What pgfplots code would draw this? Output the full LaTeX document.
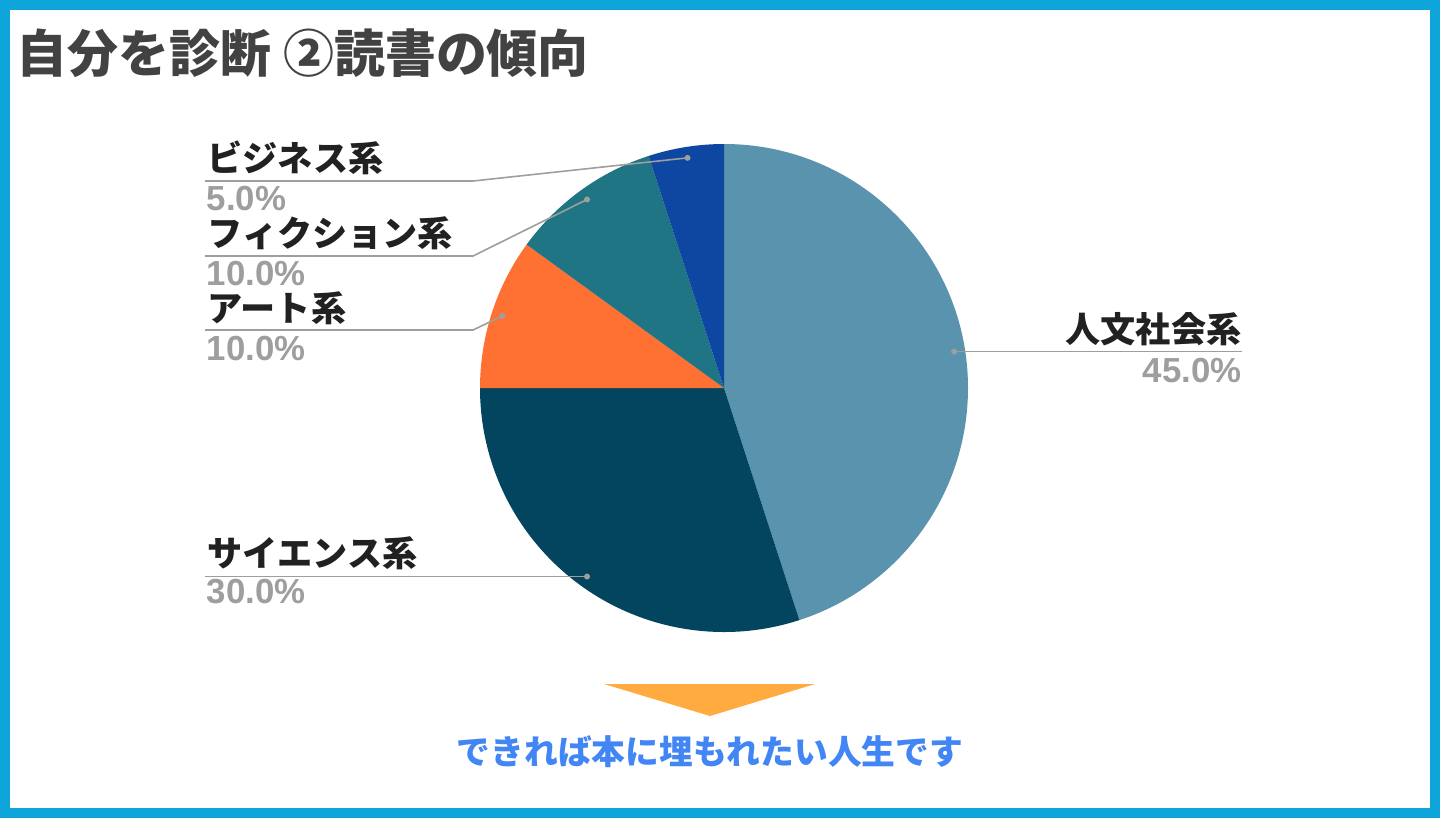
\documentclass[border=0pt]{standalone}
\usepackage{pgfplots}
\pgfplotsset{compat=1.18}
\usepackage{pgfplotstable}
\usepackage{fontspec}
\setmainfont{Noto Sans CJK JP}
\newfontfamily\numfont{Liberation Sans}
\definecolor{frameblue}{RGB}{14,165,218}
\definecolor{titlegray}{RGB}{66,66,66}
\definecolor{labblack}{RGB}{33,33,33}
\definecolor{pctgray}{RGB}{158,158,158}
\definecolor{cA}{RGB}{90,147,173}
\definecolor{cB}{RGB}{3,69,94}
\definecolor{cC}{RGB}{255,112,51}
\definecolor{cD}{RGB}{31,117,132}
\definecolor{cE}{RGB}{13,71,161}
\definecolor{arrowor}{RGB}{255,171,64}
\definecolor{msgblue}{RGB}{66,133,244}
\pgfplotstableread{
pct
45
30
10
10
5
}\piedata
\begin{document}
\begin{tikzpicture}[x=0.1mm,y=0.1mm]
% slice angles from the table
\pgfplotstablegetelem{0}{pct}\of\piedata \let\pA\pgfplotsretval
\pgfplotstablegetelem{1}{pct}\of\piedata \let\pB\pgfplotsretval
\pgfplotstablegetelem{2}{pct}\of\piedata \let\pC\pgfplotsretval
\pgfplotstablegetelem{3}{pct}\of\piedata \let\pD\pgfplotsretval
\pgfplotstablegetelem{4}{pct}\of\piedata \let\pE\pgfplotsretval
\pgfmathsetmacro\aA{90}
\pgfmathsetmacro\aB{\aA-3.6*\pA}
\pgfmathsetmacro\aC{\aB-3.6*\pB}
\pgfmathsetmacro\aD{\aC-3.6*\pC}
\pgfmathsetmacro\aE{\aD-3.6*\pD}
\pgfmathsetmacro\aF{\aE-3.6*\pE}
\pgfmathsetmacro\mA{(\aA+\aB)/2}
\pgfmathsetmacro\mB{(\aB+\aC)/2}
\pgfmathsetmacro\mC{(\aC+\aD)/2}
\pgfmathsetmacro\mD{(\aD+\aE)/2}
\pgfmathsetmacro\mE{(\aE+\aF)/2}
% background and frame
\fill[white] (0,0) rectangle (1440,818);
\path[use as bounding box] (0,0) rectangle (1440,818);
\draw[frameblue,line width=1mm] (5,5) rectangle (1435,813);
% title
\node[anchor=west,inner sep=0pt,text=titlegray,font=\fontsize{14.5pt}{16pt}\selectfont\bfseries] at (16,765) {自分を診断 ②読書の傾向};
\begin{axis}[
  at={(72.4mm,43.0mm)}, anchor=center,
  x=24.4mm, y=24.4mm,
  xmin=-1.1, xmax=1.1, ymin=-1.1, ymax=1.1,
  hide axis, clip=false]
\fill[cA] (axis cs:0,0) -- (axis cs:{cos(\aA)},{sin(\aA)}) arc[start angle=\aA, end angle=\aB, radius=24.4mm] -- cycle;
\fill[cB] (axis cs:0,0) -- (axis cs:{cos(\aB)},{sin(\aB)}) arc[start angle=\aB, end angle=\aC, radius=24.4mm] -- cycle;
\fill[cC] (axis cs:0,0) -- (axis cs:{cos(\aC)},{sin(\aC)}) arc[start angle=\aC, end angle=\aD, radius=24.4mm] -- cycle;
\fill[cD] (axis cs:0,0) -- (axis cs:{cos(\aD)},{sin(\aD)}) arc[start angle=\aD, end angle=\aE, radius=24.4mm] -- cycle;
\fill[cE] (axis cs:0,0) -- (axis cs:{cos(\aE)},{sin(\aE)}) arc[start angle=\aE, end angle=\aF, radius=24.4mm] -- cycle;
\coordinate (dA) at (axis cs:{0.955*cos(\mA)},{0.955*sin(\mA)});
\coordinate (dB) at (axis cs:{0.955*cos(\mB)},{0.955*sin(\mB)});
\coordinate (dC) at (axis cs:{0.955*cos(\mC)},{0.955*sin(\mC)});
\coordinate (dD) at (axis cs:{0.955*cos(\mD)},{0.955*sin(\mD)});
\coordinate (dE) at (axis cs:{0.955*cos(\mE)},{0.955*sin(\mE)});
\end{axis}
\coordinate (L) at (205,0);
\coordinate (R) at (1242,0);
% leader lines
\begin{scope}[pctgray, line width=0.45pt]
\draw (dE) -- (473,637) -- (205,637);
\draw (dD) -- (473,562) -- (205,562);
\draw (dC) -- (473,488) -- (205,488);
\draw (dA) -- (dA -| R);
\draw (dB) -- (dB -| L);
\foreach \d in {dA,dB,dC,dD,dE} \fill (\d) circle[radius=0.3mm];
\end{scope}
% labels
\tikzset{lab/.style={inner sep=0pt,text=labblack,font=\fontsize{10pt}{12pt}\selectfont\bfseries},
         pct/.style={inner sep=0pt,text=pctgray,font=\numfont\fontsize{9.9pt}{11pt}\selectfont\bfseries}}
\node[lab,anchor=west] at (207,660) {ビジネス系};
\node[pct,anchor=west] at (206,619) {5.0\%};
\node[lab,anchor=west] at (207,585) {フィクション系};
\node[pct,anchor=west] at (206,544) {10.0\%};
\node[lab,anchor=west] at (207,510) {アート系};
\node[pct,anchor=west] at (206,469) {10.0\%};
\node[lab,anchor=east] at (1242,489) {人文社会系};
\node[pct,anchor=east] at (1242,447) {45.0\%};
\node[lab,anchor=west] at (207,265) {サイエンス系};
\node[pct,anchor=west] at (206,226) {30.0\%};
% arrow and message
\fill[arrowor] (604,134) -- (815,134) -- (710,102) -- cycle;
\node[inner sep=0pt,text=msgblue,font=\fontsize{9.6pt}{11pt}\selectfont\bfseries] at (710,66) {できれば本に埋もれたい人生です};
\end{tikzpicture}
\end{document}
